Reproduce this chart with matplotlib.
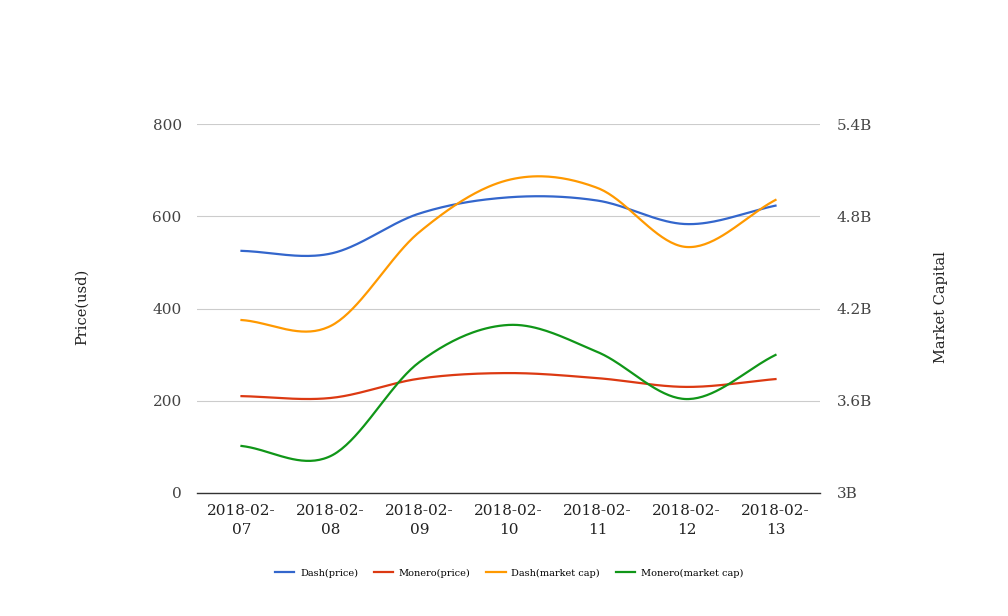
import numpy as np
import matplotlib
matplotlib.use("Agg")
import matplotlib.pyplot as plt
from matplotlib.ticker import FuncFormatter

plt.rcParams['font.family'] = ['DejaVu Serif']

dates = ["2018-02-07", "2018-02-08", "2018-02-09", "2018-02-10",
         "2018-02-11", "2018-02-12", "2018-02-13"]
tick_labels = [d[:8] + "\n" + d[8:] for d in dates]

dash_price = [525, 519, 606, 641, 634, 583, 623]
monero_price = [210, 206, 248, 260, 249, 230, 247]
dash_mcap = [4.125e9, 4.086e9, 4.698e9, 5.036e9, 4.984e9, 4.600e9, 4.906e9]
monero_mcap = [3.306e9, 3.240e9, 3.852e9, 4.093e9, 3.917e9, 3.611e9, 3.898e9]

colors = {"blue": "#3366cc", "red": "#dc3912", "orange": "#ff9900", "green": "#109618"}


def smooth(xs, ys, n=40, k=0.5):
    xs = np.asarray(xs, float)
    ys = np.asarray(ys, float)
    m = len(xs)
    t = np.zeros(m)
    for i in range(m):
        if i == 0:
            t[i] = (ys[1] - ys[0])
        elif i == m - 1:
            t[i] = (ys[-1] - ys[-2])
        else:
            t[i] = (ys[i + 1] - ys[i - 1]) / 2
    t = t * (2 * k)
    ox, oy = [], []
    for i in range(m - 1):
        s = np.linspace(0, 1, n, endpoint=(i == m - 2))
        h00 = 2 * s**3 - 3 * s**2 + 1
        h10 = s**3 - 2 * s**2 + s
        h01 = -2 * s**3 + 3 * s**2
        h11 = s**3 - s**2
        ox.extend(xs[i] + s * (xs[i + 1] - xs[i]))
        oy.extend(h00 * ys[i] + h10 * t[i] + h01 * ys[i + 1] + h11 * t[i + 1])
    return np.array(ox), np.array(oy)


fig = plt.figure(figsize=(10.08, 6.16), dpi=100)
ax = fig.add_axes([197 / 1008, 1 - 493 / 616, (820 - 197) / 1008, (493 - 124) / 616])
ax2 = ax.twinx()

x = np.arange(len(dates))
lw = 1.6
l1, = ax.plot(*smooth(x, dash_price), color=colors["blue"], lw=lw, label="Dash(price)")
l2, = ax.plot(*smooth(x, monero_price), color=colors["red"], lw=lw, label="Monero(price)")
l3, = ax2.plot(*smooth(x, dash_mcap), color=colors["orange"], lw=lw, label="Dash(market cap)")
l4, = ax2.plot(*smooth(x, monero_mcap), color=colors["green"], lw=lw, label="Monero(market cap)")

ax.set_xlim(-0.5, len(dates) - 0.5)
ax.set_ylim(0, 800)
ax2.set_ylim(3e9, 5.4e9)
ax.set_yticks([0, 200, 400, 600, 800])
ax2.set_yticks([3e9, 3.6e9, 4.2e9, 4.8e9, 5.4e9])
ax2.yaxis.set_major_formatter(FuncFormatter(lambda v, p: f"{v/1e9:g}B"))
ax.set_xticks(x)
ax.set_xticklabels(tick_labels, linespacing=1.45)

for a in (ax, ax2):
    for s in a.spines.values():
        s.set_visible(False)
    a.tick_params(length=0, labelsize=11, colors="#444444")
ax2.spines["bottom"].set_visible(True)
ax2.spines["bottom"].set_color("#333333")
ax2.spines["bottom"].set_linewidth(1.0)
ax2.spines["bottom"].set_zorder(0.8)
ax.tick_params(axis="y", pad=11)
ax2.tick_params(axis="y", pad=12)
ax.tick_params(axis="x", pad=8, labelcolor="#222222")

ax.grid(axis="y", color="#cccccc", lw=0.8)
ax.set_axisbelow(True)

fig.text(82 / 1008, 1 - 307 / 616, "Price(usd)", rotation=90, ha="center", va="center",
         fontsize=10.5, color="#222222")
fig.text(941 / 1008, 1 - 307 / 616, "Market Capital", rotation=90, ha="center", va="center",
         fontsize=10.5, color="#222222")

fig.legend(handles=[l1, l2, l3, l4], loc="center", bbox_to_anchor=(509 / 1008, 1 - 573 / 616),
           ncol=4, frameon=False, fontsize=7, handlelength=2.0, columnspacing=1.6,
           handletextpad=0.6)

fig.savefig("out.png", dpi=100)
